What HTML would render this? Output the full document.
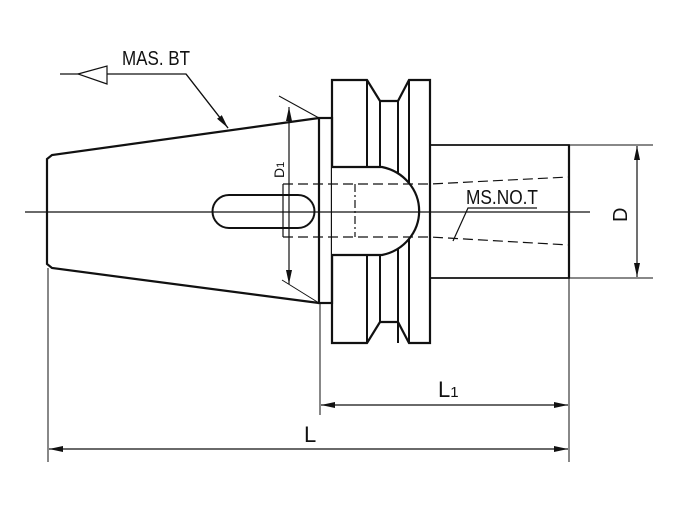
<!DOCTYPE html>
<html><head><meta charset="utf-8"><style>html,body{margin:0;padding:0;background:#fff}svg{display:block}</style></head>
<body>
<svg width="687" height="510" viewBox="0 0 687 510" xmlns="http://www.w3.org/2000/svg" font-family="Liberation Sans, sans-serif">
<defs>
<marker id="a" viewBox="0 0 14 6" refX="14" refY="3" markerWidth="14" markerHeight="6" orient="auto-start-reverse" markerUnits="userSpaceOnUse"><path d="M0,0 L14,3 L0,6 z" fill="#111"/></marker>
</defs>
<g fill="none" stroke="#111">
<!-- cone -->
<path d="M319,118 L52,155 L47,159 L47,264 L52,268 L319,303" stroke-width="2.2"/>
<!-- slot -->
<path d="M229,195 L298,195 A16.5,16.5 0 0 1 298,228 L229,228 A16.5,16.5 0 0 1 229,195 z" stroke-width="2"/>
<!-- collar -->
<rect x="319" y="118" width="13" height="185" stroke-width="2.2"/>
<!-- flange outline -->
<path d="M332,80 L367,80 L380,101 L398,101 L409,80 L430,80 L430,343 L409,343 L398,322 L380,322 L367,343 L332,343 z" stroke-width="2.2"/>
<path d="M367,80 L367,167 M380,101 L380,167 M398,101 L398,343 M409,80 L409,343 M367,255 L367,343 M380,255 L380,322" stroke-width="2"/>
<!-- dome -->
<path d="M332,167 L382,167 A47,45 0 0 1 382,255 L332,255" stroke-width="2.2" fill="#fff"/>
<!-- shank -->
<path d="M430,145 L569,145 L569,278 L430,278" stroke-width="1.8"/>
<line x1="569" y1="145" x2="569" y2="278" stroke-width="2.2"/>
<!-- dashed -->
<path d="M283,184 L430,184 L569,177 M283,237 L430,237 L569,245" stroke-width="1.2" stroke-dasharray="10,5"/>
<path d="M283,184 L283,237" stroke-width="1.2"/>
<path d="M355,184 L355,237" stroke-width="1.2" stroke-dasharray="8,3,2,3"/>
<!-- centerline -->
<path d="M25,212 L590,212" stroke-width="1.2"/>
<!-- D1 -->
<line x1="289" y1="107" x2="289" y2="284" stroke-width="1.2" marker-start="url(#a)" marker-end="url(#a)"/>
<path d="M279,96 L319,118 M282,280 L319,303" stroke-width="1"/>
<!-- D -->
<path d="M569,145 L653,145 M569,278 L653,278" stroke-width="1"/>
<line x1="637" y1="146" x2="637" y2="277" stroke-width="1.2" marker-start="url(#a)" marker-end="url(#a)"/>
<!-- MAS BT leader -->
<path d="M60,74 L186,74 L228,128" stroke-width="1.2"/>
<path d="M78,74 L107,66 L107,84 z" stroke-width="1.2" fill="#fff"/>
<line x1="186" y1="74" x2="228" y2="128" stroke-width="1.2" marker-end="url(#a)"/>
<!-- MS.NO.T leader -->
<path d="M537,208 L468,208 L453,241" stroke-width="1.2"/>
<!-- extension lines -->
<path d="M320,303 L320,415 M48,268 L48,462 M569,278 L569,462" stroke-width="1"/>
<line x1="321" y1="405" x2="568" y2="405" stroke-width="1.2" marker-start="url(#a)" marker-end="url(#a)"/>
<line x1="49" y1="449" x2="568" y2="449" stroke-width="1.2" marker-start="url(#a)" marker-end="url(#a)"/>
</g>
<g fill="#111">
<text x="122" y="65" font-size="20" textLength="68" lengthAdjust="spacingAndGlyphs">MAS. BT</text>
<text x="466" y="204" font-size="20" textLength="72" lengthAdjust="spacingAndGlyphs">MS.NO.T</text>
<text transform="translate(284,178) rotate(-90)" font-size="14">D<tspan font-size="11">1</tspan></text>
<text transform="translate(627,222) rotate(-90)" font-size="20">D</text>
<text x="438" y="397" font-size="22">L<tspan font-size="15">1</tspan></text>
<text x="304" y="442" font-size="22">L</text>
</g>
</svg>
</body></html>
